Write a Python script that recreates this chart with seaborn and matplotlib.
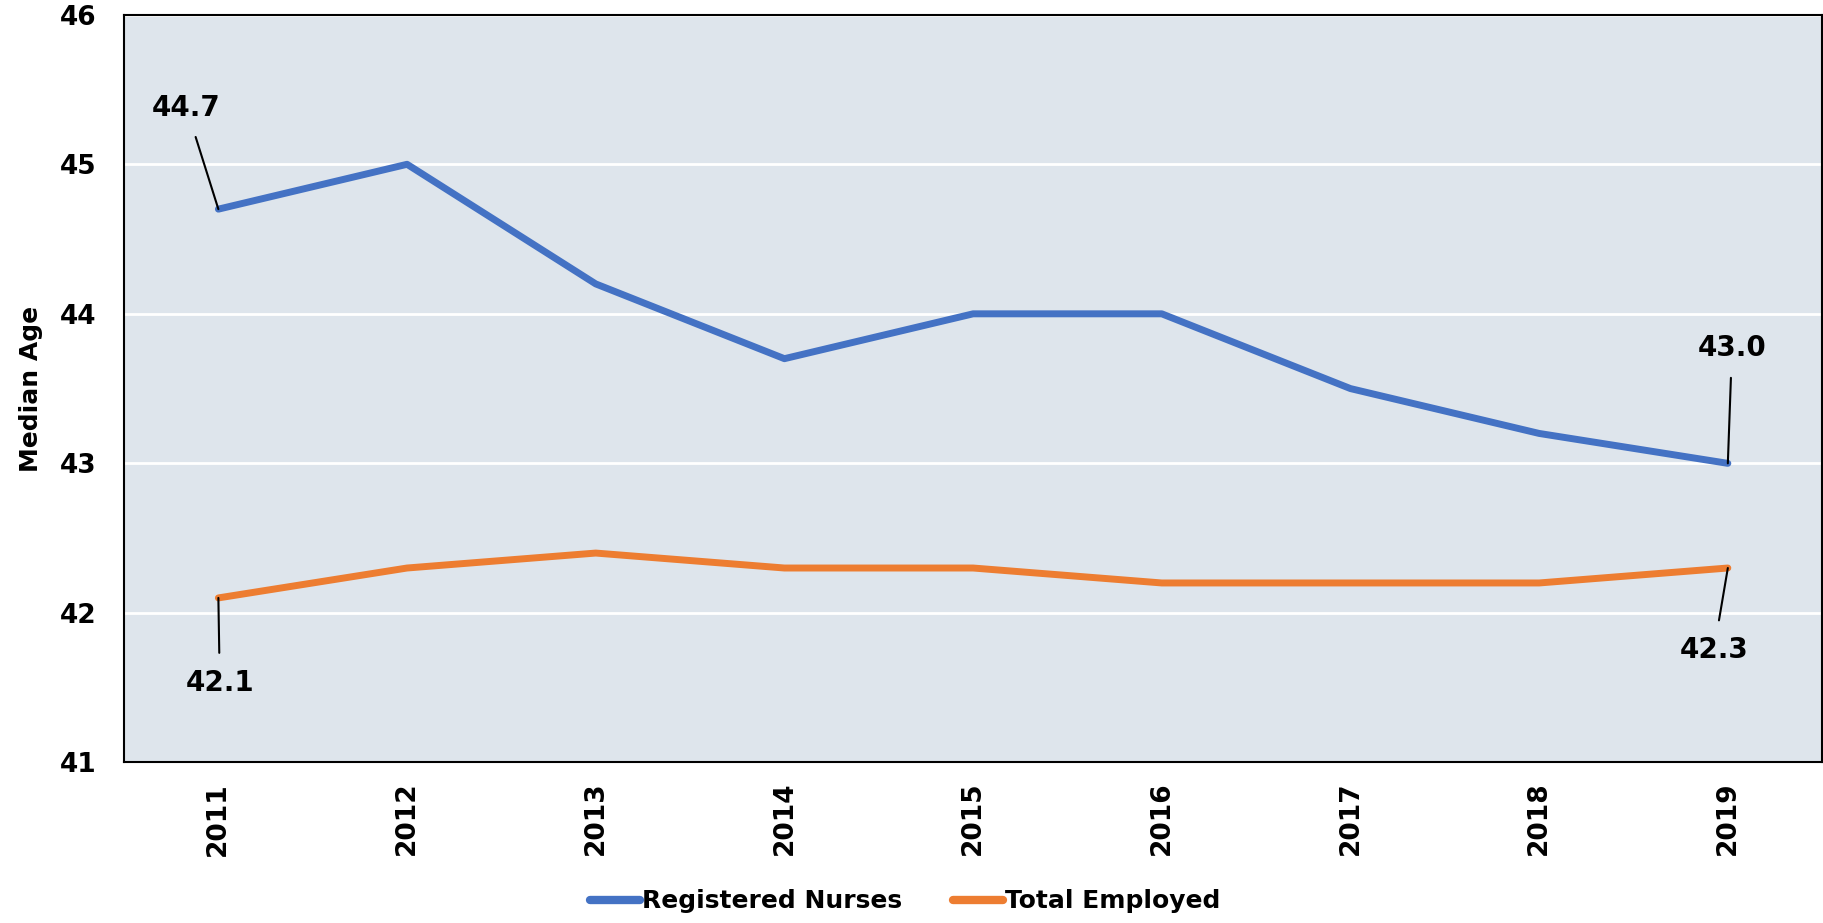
import matplotlib
matplotlib.use("Agg")
import matplotlib.pyplot as plt
import seaborn as sns
import pandas as pd

years = ["2011", "2012", "2013", "2014", "2015", "2016", "2017", "2018", "2019"]
registered_nurses = [44.7, 45.0, 44.2, 43.7, 44.0, 44.0, 43.5, 43.2, 43.0]
total_employed = [42.1, 42.3, 42.4, 42.3, 42.3, 42.2, 42.2, 42.2, 42.3]
series_names = ["Registered Nurses", "Total Employed"]
y_ticks = [41, 42, 43, 44, 45, 46]

df = pd.DataFrame({
    "Year": years * 2,
    "Median Age": registered_nurses + total_employed,
    "Series": [series_names[0]] * len(years) + [series_names[1]] * len(years),
})

sns.set_style("white")
plt.rcParams["font.family"] = ["DejaVu Sans"]
plt.rcParams["font.weight"] = "bold"
plt.rcParams["text.color"] = "black"
plt.rcParams["axes.labelcolor"] = "black"
plt.rcParams["xtick.color"] = "black"
plt.rcParams["ytick.color"] = "black"

fig, ax = plt.subplots(figsize=(18.24, 9.23), dpi=100)
fig.subplots_adjust(left=0.068, right=0.999, top=0.984, bottom=0.174)

palette = {series_names[0]: "#4472C4", series_names[1]: "#ED7D31"}
sns.lineplot(data=df, x="Year", y="Median Age", hue="Series", palette=palette,
             linewidth=5, ax=ax, sort=False, solid_capstyle="round")

ax.set_facecolor("#DEE5EC")
ax.set_xlim(-0.5, len(years) - 0.5)
ax.set_ylim(41, 46)
ax.set_yticks(y_ticks)
ax.yaxis.grid(True, color="white", linewidth=2)
ax.set_axisbelow(True)
for s in ax.spines.values():
    s.set_color("black")
    s.set_linewidth(1.5)
ax.tick_params(axis="both", length=0, labelsize=19, labelcolor="black")
ax.tick_params(axis="y", pad=20)
ax.tick_params(axis="x", pad=14, labelrotation=90)
for lbl in ax.get_xticklabels() + ax.get_yticklabels():
    lbl.set_fontweight("bold")
ax.set_xlabel("")
ax.set_ylabel("Median Age", fontsize=18, fontweight="bold", labelpad=12,
              color="black")

ann = [
    (0, registered_nurses[0], (-23, 73)),
    (8, registered_nurses[-1], (3, 83)),
    (0, total_employed[0], (1, -61)),
    (8, total_employed[-1], (-10, -59)),
]
for xi, yv, off in ann:
    ax.annotate(f"{yv:.1f}", xy=(xi, yv), xytext=off, textcoords="offset points",
                ha="center", va="center", fontsize=20, fontweight="bold",
                color="black",
                arrowprops=dict(arrowstyle="-", color="black", lw=1.5,
                                shrinkA=9, shrinkB=0))

leg = ax.legend(loc="center", bbox_to_anchor=(0.46, -0.186), ncol=2,
                frameon=False, fontsize=18, handlelength=2.0, handletextpad=0.1,
                columnspacing=2.0)
for t in leg.get_texts():
    t.set_fontweight("bold")
    t.set_color("black")
for h in leg.get_lines():
    h.set_linewidth(6)
    h.set_solid_capstyle("round")

fig.savefig("out.png", dpi=100)
